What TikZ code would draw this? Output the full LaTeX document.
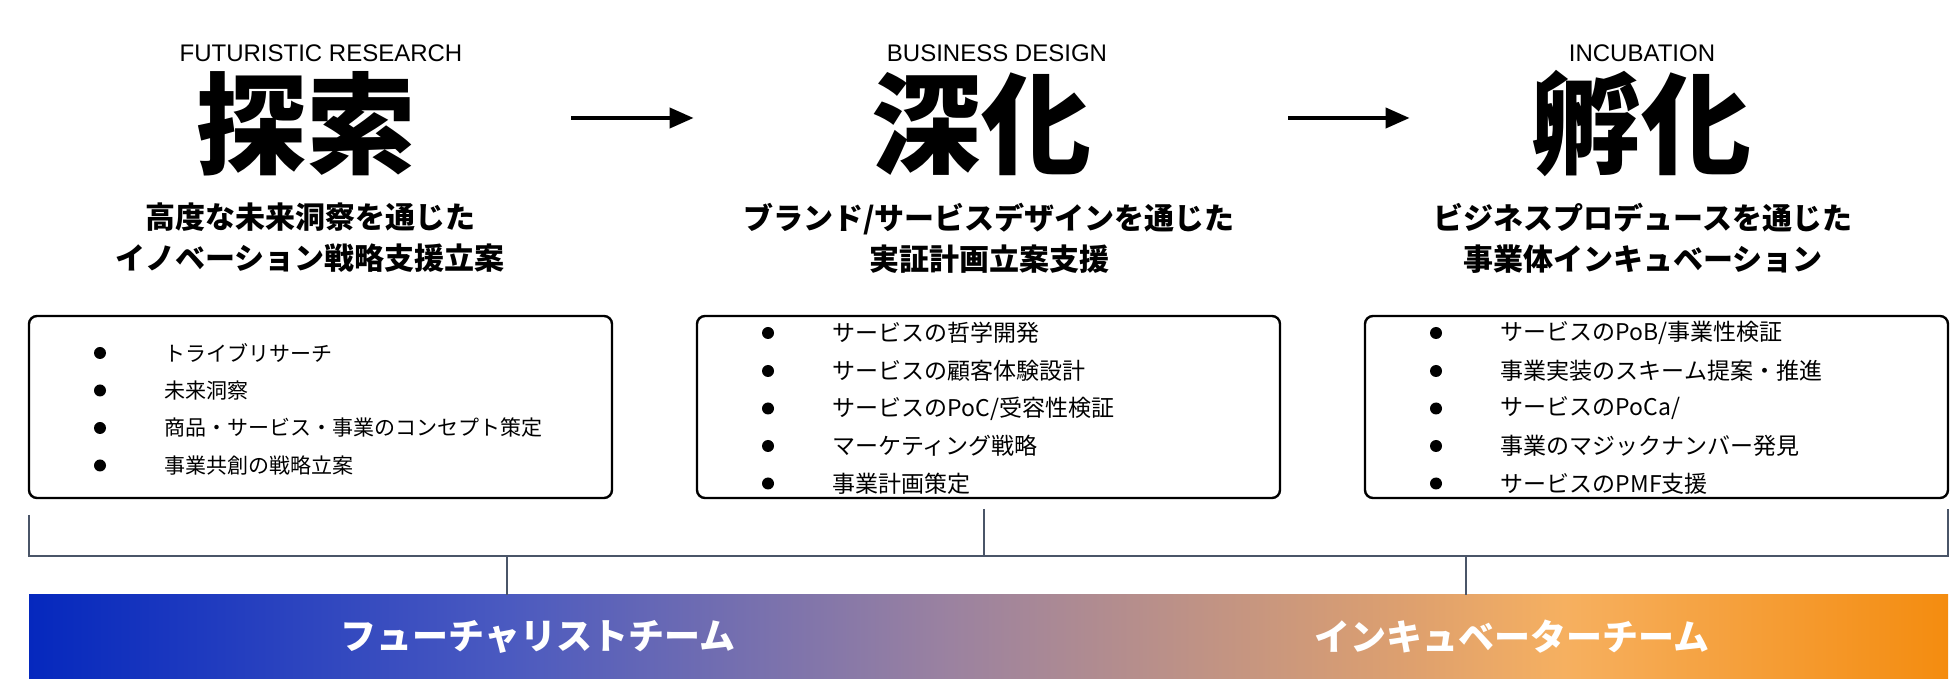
\documentclass[tikz,border=0pt]{standalone}
\usepackage{fontspec}
\setmainfont{Liberation Sans}
\newfontfamily\jp{Noto Sans CJK JP}
\usetikzlibrary{positioning,arrows.meta}

\definecolor{teamblue}{RGB}{5,40,190}
\definecolor{teamindigo}{RGB}{75,90,192}
\definecolor{teammauve}{RGB}{155,130,160}
\definecolor{teamtan}{RGB}{222,160,110}
\definecolor{teampeach}{RGB}{246,176,96}
\definecolor{teamorange}{RGB}{244,140,15}
\definecolor{slate}{RGB}{74,85,104}
\pgfdeclarehorizontalshading{teamgrad}{100bp}{color(0bp)=(teamblue); color(25bp)=(teamblue); color(37.5bp)=(teamindigo); color(49bp)=(teammauve); color(61bp)=(teamtan); color(65bp)=(teampeach); color(75bp)=(teamorange); color(100bp)=(teamorange)}

\begin{document}
\begin{tikzpicture}[x=0.5pt,y=-0.5pt,node distance=29pt]
        \tikzstyle{en}=[font=\fontsize{12pt}{14pt}\selectfont, inner sep=0pt]
        \tikzstyle{kan}=[font=\jp\bfseries\fontsize{55pt}{60pt}\selectfont, inner sep=0pt]
        \tikzstyle{sub}=[font=\jp\bfseries\fontsize{15pt}{20.5pt}\selectfont, align=center, inner sep=0pt]
        \tikzstyle{card}=[draw, line width=1.2pt, rounded corners=4pt, minimum width=291.5pt, minimum height=91pt]
        \tikzstyle{dot}=[circle, fill, inner sep=0pt, minimum size=6pt]
        \tikzstyle{item}=[font=\jp\fontsize{11.5pt}{13pt}\selectfont, inner sep=0pt]
        \tikzstyle{smallitem}=[item, font=\jp\fontsize{10.5pt}{12pt}\selectfont]
        \tikzstyle{flow}=[line width=2pt, -{Triangle[length=12pt,width=10pt]}]
        \tikzstyle{brk}=[draw=slate, line width=1pt]
        \tikzstyle{bar}=[shading=teamgrad, minimum width=959.5pt, minimum height=42pt, inner sep=0pt]
        \tikzstyle{team}=[font=\jp\bfseries\fontsize{18pt}{20pt}\selectfont, text=white, inner sep=0pt]
        \useasboundingbox (0,0) rectangle (1960,694);

        % headings
        \node[en] (en1) at (321,53) {FUTURISTIC RESEARCH};
        \node[en] (en2) at (997,53) {BUSINESS DESIGN};
        \node[en] (en3) at (1642,53) {INCUBATION};
        \node[kan] (kan1) at (306,124) {探索};
        \node[kan] (kan2) at (981,124) {深化};
        \node[kan] (kan3) at (1641,124) {孵化};
        \node[sub] (sub1) at (310,238) {高度な未来洞察を通じた\\イノベーション戦略支援立案};
        \node[sub] (sub2) at (989,238) {ブランド/サービスデザインを通じた\\実証計画立案支援};
        \node[sub] (sub3) at (1643,238) {ビジネスプロデュースを通じた\\事業体インキュベーション};
        \draw[flow, shorten <=77.5pt, shorten >=88.5pt] ([yshift=3pt]kan1.east) -- ([yshift=3pt]kan2.west);
        \draw[flow, shorten <=98.5pt, shorten >=60.5pt] ([yshift=3pt]kan2.east) -- ([yshift=3pt]kan3.west);

        % boxes
        \node[card] (box1) at (320.5,407) {};
        \node[card] (box2) at (988.5,407) {};
        \node[card] (box3) at (1656.5,407) {};

        \node[dot] (d1a) at (100,353) {};
        \node[dot] (d1b) at (100,390.5) {};
        \node[dot] (d1c) at (100,428) {};
        \node[dot] (d1d) at (100,465.5) {};
        \node[smallitem, right=of d1a] (t1a) {トライブリサーチ};
        \node[smallitem, right=of d1b] (t1b) {未来洞察};
        \node[smallitem, right=of d1c] (t1c) {商品・サービス・事業のコンセプト策定};
        \node[smallitem, right=of d1d] (t1d) {事業共創の戦略立案};

        \node[dot] (d2a) at (768,333) {};
        \node[dot] (d2b) at (768,371) {};
        \node[dot] (d2c) at (768,408.5) {};
        \node[dot] (d2d) at (768,446) {};
        \node[dot] (d2e) at (768,483.5) {};
        \node[item, right=of d2a] (t2a) {サービスの哲学開発};
        \node[item, right=of d2b] (t2b) {サービスの顧客体験設計};
        \node[item, right=of d2c] (t2c) {サービスのPoC/受容性検証};
        \node[item, right=of d2d] (t2d) {マーケティング戦略};
        \node[item, right=of d2e] (t2e) {事業計画策定};

        \node[dot] (d3a) at (1436,333) {};
        \node[dot] (d3b) at (1436,371) {};
        \node[dot] (d3c) at (1436,408.5) {};
        \node[dot] (d3d) at (1436,446) {};
        \node[dot] (d3e) at (1436,483.5) {};
        \node[item, right=of d3a] (t3a) {サービスのPoB/事業性検証};
        \node[item, right=of d3b] (t3b) {事業実装のスキーム提案・推進};
        \node[item, right=of d3c] (t3c) {サービスのPoCa/};
        \node[item, right=of d3d] (t3d) {事業のマジックナンバー発見};
        \node[item, right=of d3e] (t3e) {サービスのPMF支援};

        % teams
        \node[bar] (bar) at (988.5,637) {};
        \node[team] (futr) at (538,637) {フューチャリストチーム};
        \node[team] (incu) at (1512,637) {インキュベーターチーム};

        \coordinate (bl) at (29,515);
        \coordinate (bm) at (984,509);
        \coordinate (br) at (1948,509);
        \coordinate (hl) at (29,556);
        \coordinate (hr) at (1948,556);
        \coordinate (jl) at (507,556);
        \coordinate (jr) at (1466,556);
        \draw[brk] (bl) -- (hl) -- (hr) -- (br);
        \draw[brk] (bm) -- (bm |- hl);
        \draw[brk] (jl) -- (jl |- bar.north);
        \draw[brk] (jr) -- (jr |- bar.north);
    \end{tikzpicture}
\end{document}
